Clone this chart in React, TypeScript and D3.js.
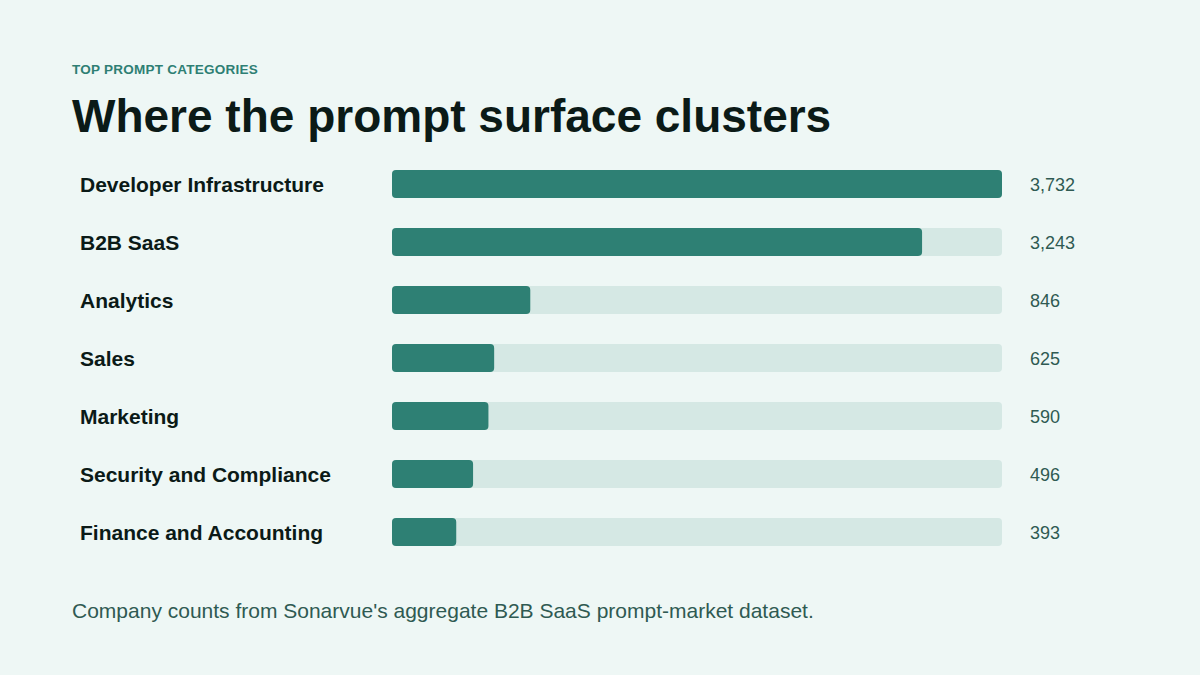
import React from "react";
import * as d3 from "d3";

const categories = [
  "Developer Infrastructure",
  "B2B SaaS",
  "Analytics",
  "Sales",
  "Marketing",
  "Security and Compliance",
  "Finance and Accounting",
];
const counts = [3732, 3243, 846, 625, 590, 496, 393];

const kicker = "TOP PROMPT CATEGORIES";
const title = "Where the prompt surface clusters";
const footnote = "Company counts from Sonarvue's aggregate B2B SaaS prompt-market dataset.";

const W = 1200;
const H = 675;
const FONT = "'Liberation Sans', Arial, Helvetica, sans-serif";

export default function App() {
  const x = d3.scaleLinear().domain([0, d3.max(counts) as number]).range([0, 610]);
  const y = d3
    .scaleBand<string>()
    .domain(categories)
    .range([170, 546])
    .paddingInner(30 / 58)
    .paddingOuter(0);
  const bw = y.bandwidth();
  const fmt = d3.format(",");
  const trackX = 392;

  return (
    <div style={{ position: "fixed", left: 0, top: 0, width: W, height: H }}>
      <svg width={W} height={H} viewBox={`0 0 ${W} ${H}`} style={{ display: "block" }}>
        <rect width={W} height={H} fill="#eef7f5" />
        <text x={72} y={74} fontFamily={FONT} fontSize={13.5} fontWeight={700} fill="#2e7f74" letterSpacing={0.25}>
          {kicker}
        </text>
        <text x={72} y={132} fontFamily={FONT} fontSize={46} fontWeight={700} fill="#0b1a17">
          {title}
        </text>
        {categories.map((c, i) => {
          const top = y(c) as number;
          const cy = top + bw / 2;
          return (
            <g key={c}>
              <text x={80} y={cy + 1} dy="0.35em" fontFamily={FONT} fontSize={21} fontWeight={700} fill="#0b1a17">
                {c}
              </text>
              <rect x={trackX} y={top} width={x.range()[1]} height={bw} rx={4} fill="#d5e8e4" />
              <rect x={trackX} y={top} width={x(counts[i])} height={bw} rx={4} fill="#2e8074" />
              <text x={1030} y={cy + 1} dy="0.35em" fontFamily={FONT} fontSize={18} fill="#2f5a52">
                {fmt(counts[i])}
              </text>
            </g>
          );
        })}
        <text x={72} y={618} fontFamily={FONT} fontSize={21} fill="#2f5a52">
          {footnote}
        </text>
      </svg>
    </div>
  );
}
